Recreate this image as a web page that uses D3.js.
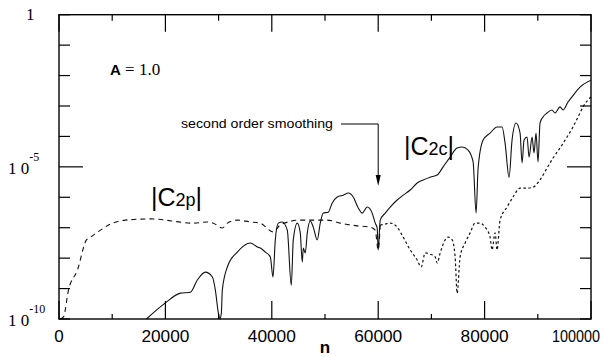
<!DOCTYPE html>
<html>
<head>
<meta charset="utf-8">
<script src="https://cdn.jsdelivr.net/npm/d3@7"></script>
<style>
  body { margin: 0; background: #fff; }
  svg { display: block; }
</style>
</head>
<body>
<script>
// values: n, and log10 of |C|
var c2cN = [16430, 20000, 22820, 24690, 26000, 27510, 28830, 29390, 29950, 30230, 30520, 30700, 31640, 33520, 35960, 37280, 37840, 38780, 39720, 40220, 40660, 41220, 41970, 42910, 43660, 44040, 44790, 45350, 45730, 45920, 46290, 46670, 47230, 47790, 48540, 49110, 49670, 50610, 51360, 52300, 53430, 54370, 55310, 56250, 57000, 57940, 58870, 59440, 59810, 60000, 60380, 61320, 62260, 63570, 64700, 66010, 67330, 68460, 69770, 71090, 72210, 73520, 74840, 75780, 76900, 77840, 78400, 78780, 79720, 81030, 82340, 83290, 83850, 84600, 85160, 85910, 86670, 87040, 87420, 87980, 88360, 88920, 89290, 89670, 90040, 90420, 90980, 91730, 92670, 93230, 94180, 94740, 95680, 96430, 97930, 100000];
var c2cExp = [-10.0, -9.47, -9.15, -9.12, -8.72, -8.46, -8.62, -9.05, -9.8, -10.0, -9.8, -9.05, -8.29, -7.80, -7.50, -7.63, -7.67, -7.80, -7.96, -8.62, -7.40, -6.85, -6.81, -7.08, -8.89, -7.40, -6.85, -7.17, -8.13, -7.67, -7.83, -7.17, -6.78, -6.98, -7.40, -6.85, -6.52, -6.49, -6.19, -5.99, -5.93, -5.86, -5.99, -6.35, -6.52, -6.32, -6.52, -6.85, -7.01, -7.73, -6.75, -6.52, -6.32, -6.09, -5.93, -5.76, -5.53, -5.43, -5.34, -5.27, -5.00, -4.68, -4.38, -4.35, -4.45, -4.84, -6.52, -5.04, -4.12, -3.89, -3.69, -3.69, -4.22, -5.34, -4.12, -3.56, -3.89, -4.87, -4.12, -4.02, -4.68, -4.02, -4.54, -3.89, -4.84, -3.56, -3.36, -3.23, -3.13, -3.23, -3.03, -3.13, -2.87, -2.70, -2.38, -2.15];

var c2pN = [280, 850, 1780, 3470, 5160, 5920, 7790, 9670, 12490, 17180, 25260, 27890, 29010, 30700, 31640, 33520, 35960, 37840, 40280, 41600, 45350, 50420, 52860, 56060, 58500, 59440, 60000, 60380, 61320, 62260, 63570, 64700, 66010, 67330, 68080, 68830, 69770, 70710, 71090, 71650, 72590, 73150, 73900, 74460, 74840, 75400, 76340, 77280, 78210, 79150, 80090, 81030, 81400, 81970, 82340, 82910, 84220, 85350, 86670, 87980, 89110, 90420, 91730, 92860, 94180, 95490, 96620, 97930, 98500, 100000];
var c2pExp = [-10.0, -9.93, -9.05, -8.39, -7.40, -7.31, -7.08, -6.88, -6.75, -6.71, -6.85, -6.81, -6.85, -7.01, -6.85, -6.75, -6.81, -6.85, -7.14, -6.91, -6.75, -6.75, -6.85, -6.94, -6.98, -7.08, -7.73, -6.91, -6.88, -6.85, -6.98, -7.31, -7.73, -8.06, -8.29, -7.83, -7.87, -7.96, -8.16, -7.83, -7.40, -7.31, -7.40, -7.96, -9.15, -7.96, -7.50, -7.17, -6.85, -6.85, -6.98, -7.31, -7.73, -7.17, -7.73, -6.75, -6.32, -5.99, -5.70, -5.70, -5.67, -5.43, -5.04, -4.71, -4.38, -4.02, -3.69, -3.23, -3.03, -2.70];

var xMajor = [0, 20000, 40000, 60000, 80000, 100000];
var xMinor = [10000, 30000, 50000, 70000, 90000];
var yDecades = [1, 1e-1, 1e-2, 1e-3, 1e-4, 1e-5, 1e-6, 1e-7, 1e-8, 1e-9, 1e-10];
var yLabels = [{v: 1, base: "1", exp: ""}, {v: 1e-5, base: "1 0", exp: "-5"}, {v: 1e-10, base: "1 0", exp: "-10"}];

var W = 611, H = 357;
var L = 59, R = 591, T = 14.7, B = 319;

var svg = d3.select("body").append("svg")
    .attr("width", W).attr("height", H);

var x = d3.scaleLinear().domain([0, 100000]).range([L, R]);
var y = d3.scaleLog().domain([1e-10, 1]).range([B, T]);

function toPts(ns, es) {
    return ns.map(function (n, i) { return {n: n, v: Math.pow(10, es[i])}; });
}
var c2c = toPts(c2cN, c2cExp);
var c2p = toPts(c2pN, c2pExp);

var line = d3.line()
    .x(function (d) { return x(d.n); })
    .y(function (d) { return y(d.v); })
    .curve(d3.curveMonotoneX);

// curves
svg.append("path")
    .datum(c2c)
    .attr("d", line)
    .attr("fill", "none")
    .attr("stroke", "#111")
    .attr("stroke-width", 1.1);

svg.append("path")
    .datum(c2p.filter(function (d) { return d.n <= 60380; }))
    .attr("d", line)
    .attr("fill", "none")
    .attr("stroke", "#111")
    .attr("stroke-width", 1.1)
    .attr("stroke-dasharray", "5,4");

svg.append("path")
    .datum(c2p.filter(function (d) { return d.n >= 60380; }))
    .attr("d", line)
    .attr("fill", "none")
    .attr("stroke", "#111")
    .attr("stroke-width", 1.2)
    .attr("stroke-dasharray", "2.5,2.5");

// frame
svg.append("rect")
    .attr("x", L).attr("y", T)
    .attr("width", R - L).attr("height", B - T)
    .attr("fill", "none")
    .attr("stroke", "#000")
    .attr("stroke-width", 1.4);

// ticks, drawn inward on all four sides
var g = svg.append("g").attr("stroke", "#000").attr("stroke-width", 1.2);
xMajor.forEach(function (v) {
    g.append("line").attr("x1", x(v)).attr("x2", x(v)).attr("y1", B).attr("y2", B - 18);
    g.append("line").attr("x1", x(v)).attr("x2", x(v)).attr("y1", T).attr("y2", T + 17);
});
xMinor.forEach(function (v) {
    g.append("line").attr("x1", x(v)).attr("x2", x(v)).attr("y1", B).attr("y2", B - 5);
    g.append("line").attr("x1", x(v)).attr("x2", x(v)).attr("y1", T).attr("y2", T + 6);
});
yDecades.forEach(function (v) {
    var len = (v === 1e-5) ? 24 : 11;
    g.append("line").attr("x1", L).attr("x2", L + len).attr("y1", y(v)).attr("y2", y(v));
    g.append("line").attr("x1", R).attr("x2", R - len).attr("y1", y(v)).attr("y2", y(v));
});

// x tick labels (condensed look squeezed with textLength)
svg.selectAll(".xl")
    .data(xMajor)
    .enter().append("text")
    .attr("x", function (d) { return d === 100000 ? 600 : x(d); })
    .attr("y", 342)
    .attr("text-anchor", function (d) { return d === 100000 ? "end" : "middle"; })
    .attr("font-family", "Liberation Sans, Arial, sans-serif")
    .attr("font-size", 17)
    .attr("fill", "#000")
    .attr("textLength", function (d) { return d === 0 ? null : 48; })
    .attr("lengthAdjust", "spacingAndGlyphs")
    .text(function (d) { return d; });

svg.append("text")
    .attr("x", 325).attr("y", 353)
    .attr("text-anchor", "middle")
    .attr("font-family", "Liberation Sans, Arial, sans-serif")
    .attr("font-weight", "bold")
    .attr("font-size", 17)
    .text("n");

// y tick labels
yLabels.forEach(function (d) {
    var t = svg.append("text")
        .attr("y", y(d.v) + (d.v === 1 ? 5 : 7))
        .attr("font-family", "Liberation Serif, Times New Roman, serif")
        .attr("font-size", 17)
        .attr("fill", "#000");
    if (d.v === 1) {
        t.attr("x", 26).text(d.base);
    } else {
        t.attr("x", 8).text(d.base);
        t.append("tspan")
            .attr("font-size", 12)
            .attr("dy", -13)
            .text(d.exp);
    }
});

// annotations
var a = svg.append("text")
    .attr("x", 110).attr("y", 75)
    .attr("fill", "#000");
a.append("tspan")
    .attr("font-family", "Liberation Sans, Arial, sans-serif")
    .attr("font-weight", "bold")
    .attr("font-size", 15)
    .text("A");
a.append("tspan")
    .attr("font-family", "Liberation Serif, Times New Roman, serif")
    .attr("font-size", 17)
    .text(" = 1.0");

svg.append("text")
    .attr("x", 181).attr("y", 128)
    .attr("font-family", "Liberation Sans, Arial, sans-serif")
    .attr("font-size", 13)
    .attr("textLength", 152)
    .attr("lengthAdjust", "spacingAndGlyphs")
    .text("second order smoothing");

svg.append("path")
    .attr("d", d3.line()([[341, 124], [x(60000), 124], [x(60000), 178]]))
    .attr("fill", "none")
    .attr("stroke", "#000")
    .attr("stroke-width", 1);
svg.append("path")
    .attr("d", d3.line()([[x(60000) - 2.5, 175], [x(60000) + 2.5, 175], [x(60000), 186]]) + "Z")
    .attr("fill", "#000");

function curveLabel(px, py, sub) {
    var t = svg.append("text")
        .attr("x", px).attr("y", py)
        .attr("font-family", "Liberation Sans, Arial, sans-serif")
        .attr("fill", "#000");
    t.append("tspan").attr("font-size", 25).text("|C");
    t.append("tspan").attr("font-size", 18).text("2" + sub);
    t.append("tspan").attr("font-size", 25).text("|");
}
curveLabel(151, 206, "p");
curveLabel(404, 155, "c");
</script>
</body>
</html>
